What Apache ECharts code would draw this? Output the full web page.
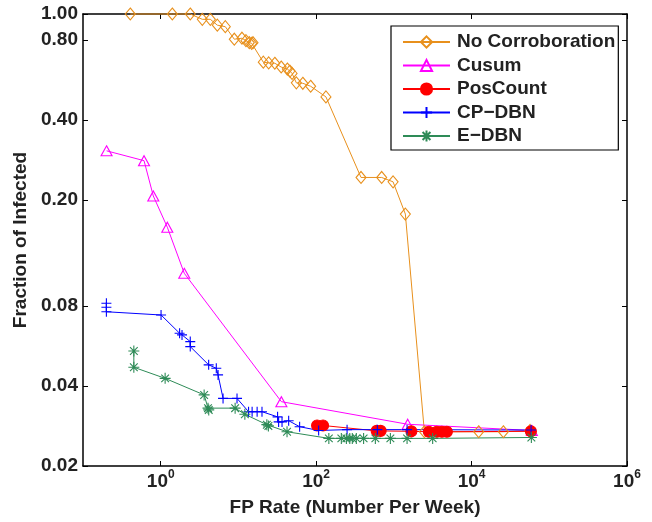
<!DOCTYPE html>
<html>
<head>
<meta charset="utf-8">
<script src="https://cdn.jsdelivr.net/npm/echarts@6/dist/echarts.min.js"></script>
</head>
<body style="margin:0">
<div id="chart" style="width:652px;height:522px;"></div>
<script>
// values (FP per week, fraction infected)
const fpNoCorr = [0.406, 1.41, 2.40, 3.43, 4.35, 5.35, 6.78, 8.85, 11.1, 12.5, 13.8, 14.8, 15.4, 20.9, 24.5, 29.4, 35.5, 42.6, 46.0, 49.0, 55.6, 67.4, 85, 133.7, 378, 697, 977, 1406, 2470, 12340, 25650, 56600];
const infNoCorr = [1.0, 1.0, 1.0, 0.955, 0.955, 0.908, 0.896, 0.804, 0.811, 0.794, 0.780, 0.776, 0.780, 0.659, 0.655, 0.653, 0.632, 0.621, 0.610, 0.598, 0.551, 0.549, 0.535, 0.488, 0.243, 0.243, 0.234, 0.177, 0.0269, 0.0269, 0.0269, 0.0272];

const fpCusum = [0.201, 0.610, 0.803, 1.216, 2.01, 35.7, 1506, 59700];
const infCusum = [0.306, 0.281, 0.207, 0.158, 0.106, 0.0349, 0.0287, 0.0272];

const fpPos = [102.8, 122.7, 601, 676, 1680, 2820, 3575, 4150, 4810, 57960];
const infPos = [0.0284, 0.0284, 0.0271, 0.0271, 0.0270, 0.0269, 0.0269, 0.0269, 0.0269, 0.0270];

const fpCp = [0.2, 0.2, 0.2, 1.01, 1.75, 1.88, 2.40, 2.40, 4.14, 5.19, 5.47, 6.34, 9.59, 13.5, 15.0, 17.4, 20.1, 31.9, 32.9, 36.4, 44.3, 61.3, 107.7, 250, 613, 1479, 58300];
const infCp = [0.0818, 0.0790, 0.0760, 0.0739, 0.0631, 0.0622, 0.0587, 0.0562, 0.0480, 0.0466, 0.0440, 0.0359, 0.0359, 0.0320, 0.0320, 0.0320, 0.0320, 0.0306, 0.0293, 0.0293, 0.0296, 0.0281, 0.0272, 0.0274, 0.0274, 0.0274, 0.0273];

const fpE = [0.451, 0.451, 1.14, 3.62, 4.06, 4.15, 9.07, 12.1, 23.2, 24.3, 42.2, 145.7, 211, 245, 271, 292, 329, 408, 578, 902, 1479, 3157, 58800];
const infE = [0.0541, 0.0470, 0.0427, 0.0370, 0.0330, 0.0325, 0.0330, 0.0313, 0.0286, 0.0283, 0.0269, 0.0254, 0.0254, 0.0254, 0.0254, 0.0254, 0.0254, 0.0254, 0.0254, 0.0254, 0.0254, 0.0254, 0.0256];

const xTickExp = [0, 2, 4, 6];
const yTicks = [0.02, 0.04, 0.08, 0.2, 0.4, 0.8, 1.0];

const FONT = 'Liberation Sans, Arial, sans-serif';
const lg = v => Math.log10(v);
const yTickLog = yTicks.map(lg);

const plusPath = 'path://M0,5L10,5M5,0L5,10';
const starPath = 'path://M5,0L5,10M0,5L10,5M1.5,1.5L8.5,8.5M8.5,1.5L1.5,8.5';

function mk(name, xs, ys, color, symbol, size, fill) {
    return {
        name: name,
        type: 'line',
        data: xs.map((x, i) => [lg(x), lg(ys[i])]),
        symbol: symbol,
        symbolSize: size,
        clip: false,
        silent: true,
        lineStyle: {color: color, width: 1},
        itemStyle: {color: fill, borderColor: color, borderWidth: 1.1},
        emphasis: {disabled: true}
    };
}

let chart = echarts.init(document.getElementById('chart'));

let boxLine = {onZero: false, lineStyle: {color: '#000', width: 1.5}};

let option = {
    animation: false,
    textStyle: {fontFamily: FONT},
    grid: {left: 83, top: 14, right: 25, bottom: 56},
    legend: {
        orient: 'vertical',
        left: 391,
        top: 26,
        backgroundColor: '#fff',
        borderColor: '#000',
        borderWidth: 1.2,
        borderRadius: 0,
        padding: [6, 3, 4, 11],
        itemWidth: 47,
        itemHeight: 14,
        itemGap: 3.5,
        textStyle: {fontSize: 19, fontWeight: 'bold', color: '#222', fontFamily: FONT, lineHeight: 20, padding: [0, 0, 0, 2]},
        data: ['No Corroboration', 'Cusum', 'PosCount', 'CP\u2212DBN', 'E\u2212DBN']
    },
    xAxis: [{
        type: 'value',
        min: -1,
        max: 6,
        position: 'bottom',
        name: 'FP Rate (Number Per Week)',
        nameLocation: 'middle',
        nameGap: 32,
        nameTextStyle: {fontSize: 19, fontWeight: 'bold', color: '#222', fontFamily: FONT},
        splitLine: {show: false},
        axisLine: boxLine,
        axisTick: {inside: true, length: 5, customValues: xTickExp, lineStyle: {color: '#000'}},
        axisLabel: {
            customValues: xTickExp,
            margin: 3,
            formatter: v => '{b|10}{s|' + v + '}',
            rich: {
                b: {fontSize: 19, fontWeight: 'bold', color: '#222', fontFamily: FONT, lineHeight: 20, verticalAlign: 'bottom'},
                s: {fontSize: 12, fontWeight: 'bold', color: '#222', fontFamily: FONT, verticalAlign: 'bottom', padding: [0, 0, 10, 0]}
            }
        }
    }, {
        type: 'value',
        min: -1,
        max: 6,
        position: 'top',
        splitLine: {show: false},
        axisLine: boxLine,
        axisTick: {inside: true, length: 5, customValues: xTickExp, lineStyle: {color: '#000'}},
        axisLabel: {show: false}
    }],
    yAxis: [{
        type: 'value',
        min: lg(0.02),
        max: 0,
        position: 'left',
        name: 'Fraction of Infected',
        nameLocation: 'middle',
        nameGap: 50,
        nameTextStyle: {fontSize: 19, fontWeight: 'bold', color: '#222', fontFamily: FONT},
        splitLine: {show: false},
        axisLine: boxLine,
        axisTick: {inside: true, length: 5, customValues: yTickLog, lineStyle: {color: '#000'}},
        axisLabel: {
            customValues: yTickLog,
            margin: 5,
            fontSize: 19,
            fontWeight: 'bold',
            color: '#222',
            fontFamily: FONT,
            formatter: v => Math.pow(10, v).toFixed(2)
        }
    }, {
        type: 'value',
        min: lg(0.02),
        max: 0,
        position: 'right',
        splitLine: {show: false},
        axisLine: boxLine,
        axisTick: {inside: true, length: 5, customValues: yTickLog, lineStyle: {color: '#000'}},
        axisLabel: {show: false}
    }],
    series: [
        mk('No Corroboration', fpNoCorr, infNoCorr, '#e8901c', 'diamond', [10, 12], 'rgba(0,0,0,0)'),
        mk('Cusum', fpCusum, infCusum, '#ff00ff', 'triangle', [11, 10], 'rgba(0,0,0,0)'),
        mk('PosCount', fpPos, infPos, '#ff0000', 'circle', 11, '#ff0000'),
        mk('CP\u2212DBN', fpCp, infCp, '#0000ff', plusPath, [10, 10], 'rgba(0,0,0,0)'),
        mk('E\u2212DBN', fpE, infE, '#2e8b57', starPath, [11, 11], 'rgba(0,0,0,0)')
    ]
};

chart.setOption(option);
</script>
</body>
</html>
